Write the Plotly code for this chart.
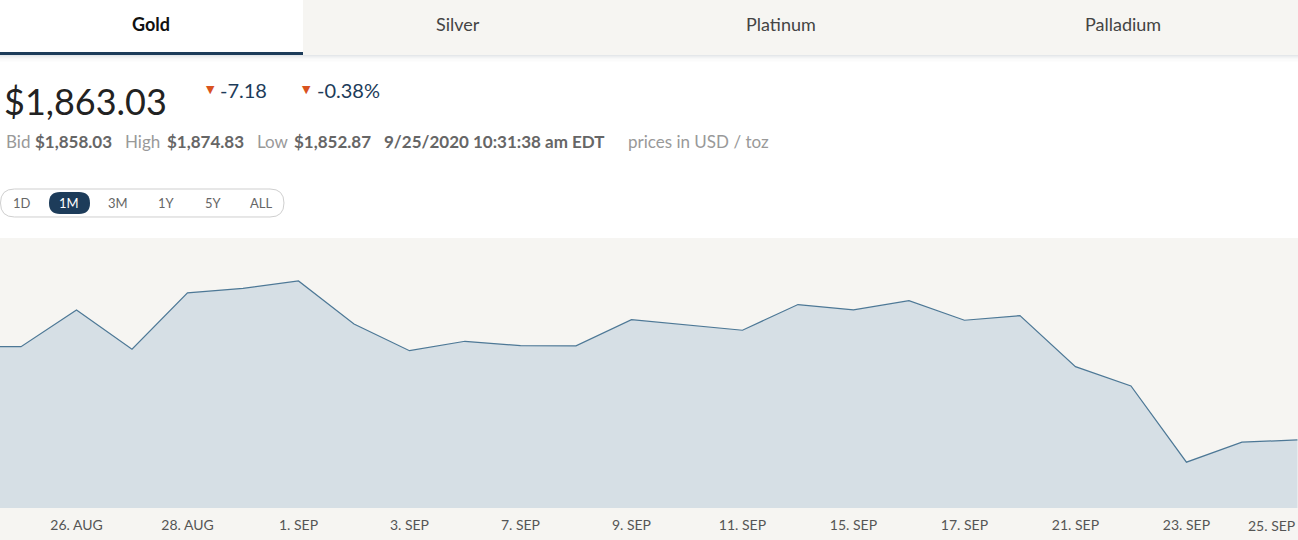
import plotly.graph_objects as go

# ---- data ----
dates = ["2020-08-24", "2020-08-25", "2020-08-26", "2020-08-27", "2020-08-28", "2020-08-31",
         "2020-09-01", "2020-09-02", "2020-09-03", "2020-09-04", "2020-09-07", "2020-09-08",
         "2020-09-09", "2020-09-10", "2020-09-11", "2020-09-14", "2020-09-15", "2020-09-16",
         "2020-09-17", "2020-09-18", "2020-09-21", "2020-09-22", "2020-09-23", "2020-09-24",
         "2020-09-25"]
prices = [1925.4, 1925.5, 1950.1, 1923.8, 1961.5, 1964.6,
          1969.5, 1940.7, 1922.8, 1929.1, 1926.2, 1926.0,
          1943.6, 1940.1, 1936.5, 1953.7, 1950.1, 1956.3,
          1943.2, 1946.3, 1912.1, 1899.2, 1848.1, 1861.5,
          1863.03]
tick_dates = ["2020-08-26", "2020-08-28", "2020-09-01", "2020-09-03", "2020-09-07",
              "2020-09-09", "2020-09-11", "2020-09-15", "2020-09-17", "2020-09-21",
              "2020-09-23"]
tick_labels = ["26. AUG", "28. AUG", "1. SEP", "3. SEP", "7. SEP", "9. SEP",
               "11. SEP", "15. SEP", "17. SEP", "21. SEP", "23. SEP"]
last_label = "25. SEP"
tabs = ["Gold", "Silver", "Platinum", "Palladium"]
ranges = ["1D", "1M", "3M", "1Y", "5Y", "ALL"]

W, H = 1298, 540
TOP, BOT = 238, 32
PH = H - TOP - BOT


def px(p):
    return p / W


def py(p):
    return 1 + (TOP - p) / PH


NAVY = "#1d3c5a"
BEIGE = "#f6f5f2"
FONT = "Lato, 'Open Sans', sans-serif"

fig = go.Figure()
fig.add_trace(go.Scatter(
    x=dates, y=prices, mode="lines",
    line=dict(color="#4d7896", width=1.2),
    fill="tozeroy", fillcolor="#d6dfe5",
    hoverinfo="skip", showlegend=False,
))

shapes = []
ann = []

# bottom beige band under plot
shapes.append(dict(type="rect", xref="paper", yref="paper", x0=0, x1=1,
                   y0=py(H), y1=py(TOP + PH), fillcolor=BEIGE, line=dict(width=0), layer="below"))

# tabs
tab_edges = [0, 303, 614, 949, 1298]
tab_centers = [151, 458, 781, 1123]
for i, t in enumerate(tabs):
    if i > 0:
        shapes.append(dict(type="rect", xref="paper", yref="paper",
                           x0=px(tab_edges[i]), x1=px(tab_edges[i + 1]),
                           y0=py(55), y1=py(0), fillcolor=BEIGE, line=dict(width=0)))
    ann.append(dict(text=("<b>%s</b>" % t) if i == 0 else t, x=px(tab_centers[i]), y=py(24),
                    xref="paper", yref="paper", xanchor="center", yanchor="middle",
                    showarrow=False,
                    font=dict(family=FONT, size=18, color="#111" if i == 0 else "#444")))
shapes.append(dict(type="rect", xref="paper", yref="paper", x0=0, x1=px(303),
                   y0=py(55), y1=py(52), fillcolor=NAVY, line=dict(width=0)))
# shadow under tabs
shade = ["#e4e7ea", "#eceef0", "#f2f3f4", "#f7f8f8", "#fbfbfb"]
for k, c in enumerate(shade):
    shapes.append(dict(type="rect", xref="paper", yref="paper", x0=0, x1=1,
                       y0=py(56 + k + 1.5), y1=py(55 + k), fillcolor=c, line=dict(width=0)))

# price header
ann.append(dict(text="$1,863.03", x=px(2), y=py(101), xref="paper", yref="paper",
                xanchor="left", yanchor="middle", showarrow=False,
                font=dict(family=FONT, size=36, color="#222")))
for xt, xv, val in [(210, 218, "-7.18"), (306, 315, "-0.38%")]:
    ann.append(dict(text="▼", x=px(xt), y=py(90), xref="paper", yref="paper",
                    xanchor="center", yanchor="middle", showarrow=False,
                    font=dict(family="DejaVu Sans", size=11, color="#d9531e")))
    ann.append(dict(text=val, x=px(xv), y=py(90), xref="paper", yref="paper",
                    xanchor="left", yanchor="middle", showarrow=False,
                    font=dict(family=FONT, size=20, color=NAVY)))

row2 = [(4, "Bid", False), (33, "$1,858.03", True), (123, "High", False),
        (165, "$1,874.83", True), (255, "Low", False), (292, "$1,852.87", True),
        (382, "9/25/2020 10:31:38 am EDT", True), (626, "prices in USD / toz", False)]
for xp, t, bold in row2:
    ann.append(dict(text=("<b>%s</b>" % t) if bold else t, x=px(xp), y=py(141),
                    xref="paper", yref="paper", xanchor="left", yanchor="middle",
                    showarrow=False,
                    font=dict(family=FONT, size=17, color="#666" if bold else "#999")))


def rrect(x0, y0, x1, y1, r):
    pts = []
    pts.append("M %f,%f" % (px(x0 + r), py(y0)))
    pts.append("L %f,%f" % (px(x1 - r), py(y0)))
    pts.append("Q %f,%f %f,%f" % (px(x1), py(y0), px(x1), py(y0 + r)))
    pts.append("L %f,%f" % (px(x1), py(y1 - r)))
    pts.append("Q %f,%f %f,%f" % (px(x1), py(y1), px(x1 - r), py(y1)))
    pts.append("L %f,%f" % (px(x0 + r), py(y1)))
    pts.append("Q %f,%f %f,%f" % (px(x0), py(y1), px(x0), py(y1 - r)))
    pts.append("L %f,%f" % (px(x0), py(y0 + r)))
    pts.append("Q %f,%f %f,%f" % (px(x0), py(y0), px(x0 + r), py(y0)))
    pts.append("Z")
    return " ".join(pts)


shapes.append(dict(type="path", xref="paper", yref="paper", path=rrect(0.5, 189, 284, 217, 14),
                   line=dict(color="#cfcfcf", width=1), fillcolor="rgba(0,0,0,0)"))
shapes.append(dict(type="path", xref="paper", yref="paper", path=rrect(49, 192, 90, 214, 11),
                   line=dict(width=0), fillcolor=NAVY))
btn_x = [22, 69, 118, 166, 213, 261]
for xb, t in zip(btn_x, ranges):
    ann.append(dict(text=t, x=px(xb), y=py(203), xref="paper", yref="paper",
                    xanchor="center", yanchor="middle", showarrow=False,
                    font=dict(family=FONT, size=13, color="#ffffff" if t == "1M" else "#666")))

# last x label kept inside
ann.append(dict(text=last_label, x=dates[-1], y=py(525), xref="x", yref="paper",
                xanchor="right", yanchor="middle", showarrow=False,
                font=dict(family=FONT, size=14, color="#555")))

fig.update_layout(
    width=W, height=H,
    margin=dict(l=0, r=0, t=TOP, b=BOT, pad=0),
    paper_bgcolor="white", plot_bgcolor=BEIGE,
    xaxis=dict(type="category", range=[0.6216, 24.01], tickvals=tick_dates, ticktext=tick_labels,
               showgrid=False, zeroline=False, showline=False, ticks="",
               ticklabelstandoff=7,
               tickfont=dict(family=FONT, size=14, color="#555")),
    yaxis=dict(range=[1817.4, 1998.3], showgrid=False, zeroline=False, showline=False,
               showticklabels=False, ticks=""),
    shapes=shapes, annotations=ann, showlegend=False,
)
fig.write_html("out.html", config={"displayModeBar": False},
               post_script="document.body.style.margin='0';document.body.style.overflow='hidden';")
